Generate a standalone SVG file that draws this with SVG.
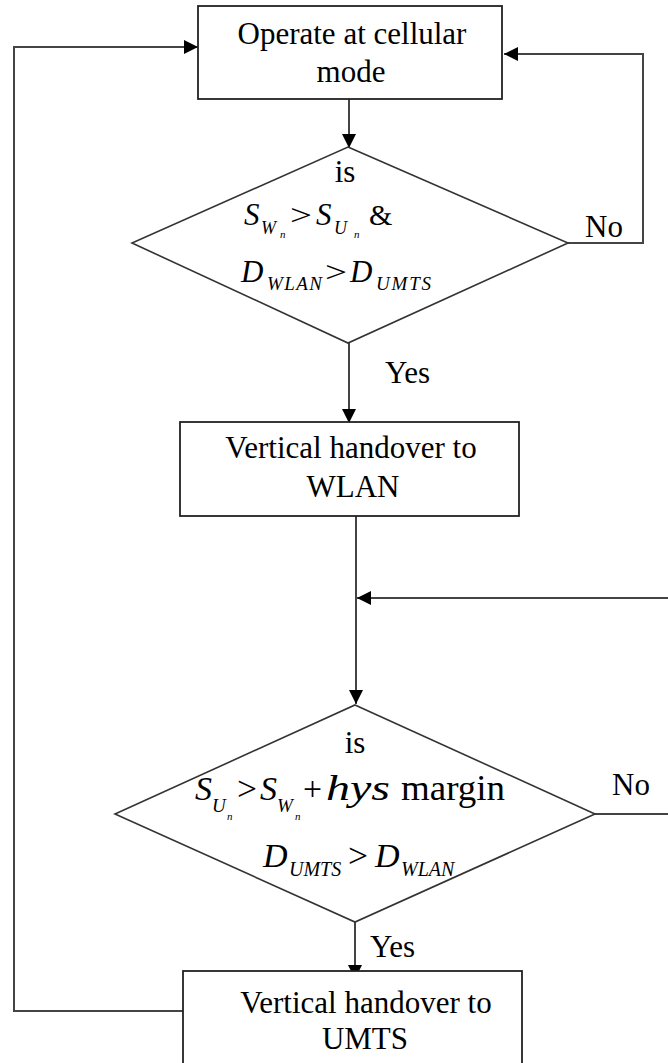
<svg xmlns="http://www.w3.org/2000/svg" width="668" height="1063" viewBox="0 0 668 1063">
<style>
.box{fill:#fff;stroke:#222;stroke-width:1.8}
.dia{fill:#fff;stroke:#333;stroke-width:1.6}
.con{fill:none;stroke:#444;stroke-width:2}
.t{font-family:"Liberation Serif","Times New Roman",serif;font-size:31px;fill:#000}
.m{font-family:"Liberation Serif","Times New Roman",serif;font-style:italic;fill:#000}
.u{font-family:"Liberation Serif","Times New Roman",serif;fill:#000}
</style>
<defs>
<marker id="ah" markerUnits="userSpaceOnUse" markerWidth="15" markerHeight="14" refX="14" refY="7" orient="auto">
<path d="M0,0 L14,7 L0,14 z" fill="#000"/>
</marker>
</defs>
<g id="connectors">
<line class="con" x1="349" y1="99" x2="349" y2="148" marker-end="url(#ah)"/>
<line class="con" x1="349" y1="343" x2="349" y2="423" marker-end="url(#ah)"/>
<line class="con" x1="356" y1="516" x2="356" y2="704" marker-end="url(#ah)"/>
<line class="con" x1="668" y1="598" x2="357" y2="598" marker-end="url(#ah)"/>
<line class="con" x1="355" y1="922" x2="355" y2="979" marker-end="url(#ah)"/>
<polyline class="con" points="568,243 643,243 643,54 504,54" marker-end="url(#ah)"/>
<line class="con" x1="595" y1="814" x2="668" y2="814"/>
<polyline class="con" points="190,1011 14,1011 14,47 198,47" marker-end="url(#ah)"/>
<text class="t" x="585" y="237">No</text>
<text class="t" x="612" y="795">No</text>
<text class="t" x="385" y="383">Yes</text>
<text class="t" x="370" y="957">Yes</text>
</g>
<g id="n1">
<rect class="box" x="198" y="6" width="304" height="93"/>
<text class="t" x="352" y="44" text-anchor="middle">Operate at cellular</text>
<text class="t" x="351" y="82" text-anchor="middle">mode</text>
</g>
<g id="d1">
<polygon class="dia" points="348,147 568,243 348,343 132,243"/>
<text class="t" x="345" y="182" text-anchor="middle">is</text>
<text class="m" x="244" y="225" font-size="31">S</text>
<text class="m" x="261" y="234" font-size="18">W</text>
<text class="m" x="280" y="238" font-size="11">n</text>
<text class="u" x="290" y="225" font-size="30" textLength="22" lengthAdjust="spacingAndGlyphs">&gt;</text>
<text class="m" x="316" y="225" font-size="31">S</text>
<text class="m" x="334" y="234" font-size="18">U</text>
<text class="m" x="354" y="238" font-size="11">n</text>
<text class="u" x="369" y="225" font-size="30">&amp;</text>
<text class="m" x="241" y="282" font-size="31">D</text>
<text class="m" x="267" y="290" font-size="19" textLength="55" lengthAdjust="spacing">WLAN</text>
<text class="u" x="325" y="282" font-size="30" textLength="22" lengthAdjust="spacingAndGlyphs">&gt;</text>
<text class="m" x="350" y="282" font-size="31">D</text>
<text class="m" x="376" y="290" font-size="19" textLength="55" lengthAdjust="spacing">UMTS</text>
</g>
<g id="n2">
<rect class="box" x="180" y="422" width="339" height="94"/>
<text class="t" x="351" y="458" text-anchor="middle">Vertical handover to</text>
<text class="t" x="353" y="497" text-anchor="middle">WLAN</text>
</g>
<g id="d2">
<polygon class="dia" points="355,705 595,814 355,922 115,814"/>
<text class="t" x="355" y="753" text-anchor="middle">is</text>
<text class="m" x="195" y="800" font-size="34">S</text>
<text class="m" x="212" y="812" font-size="19">U</text>
<text class="m" x="227" y="820" font-size="11">n</text>
<text class="u" x="237" y="800" font-size="34" textLength="20" lengthAdjust="spacingAndGlyphs">&gt;</text>
<text class="m" x="260" y="800" font-size="34">S</text>
<text class="m" x="277" y="812" font-size="19">W</text>
<text class="m" x="295" y="820" font-size="11">n</text>
<text class="u" x="303" y="800" font-size="34" textLength="19" lengthAdjust="spacingAndGlyphs">+</text>
<text class="m" x="326" y="800" font-size="35" textLength="64" lengthAdjust="spacingAndGlyphs">hys</text>
<text class="u" x="401" y="800" font-size="35" textLength="104" lengthAdjust="spacingAndGlyphs">margin</text>
<text class="m" x="263" y="867" font-size="34">D</text>
<text class="m" x="289" y="876" font-size="20">UMTS</text>
<text class="u" x="348" y="867" font-size="34" textLength="20" lengthAdjust="spacingAndGlyphs">&gt;</text>
<text class="m" x="375" y="867" font-size="34">D</text>
<text class="m" x="401" y="876" font-size="20">WLAN</text>
</g>
<g id="n3">
<rect class="box" x="183" y="971" width="339" height="100"/>
<text class="t" x="366" y="1013" text-anchor="middle">Vertical handover to</text>
<text class="t" x="365" y="1049" text-anchor="middle">UMTS</text>
</g>
</svg>
